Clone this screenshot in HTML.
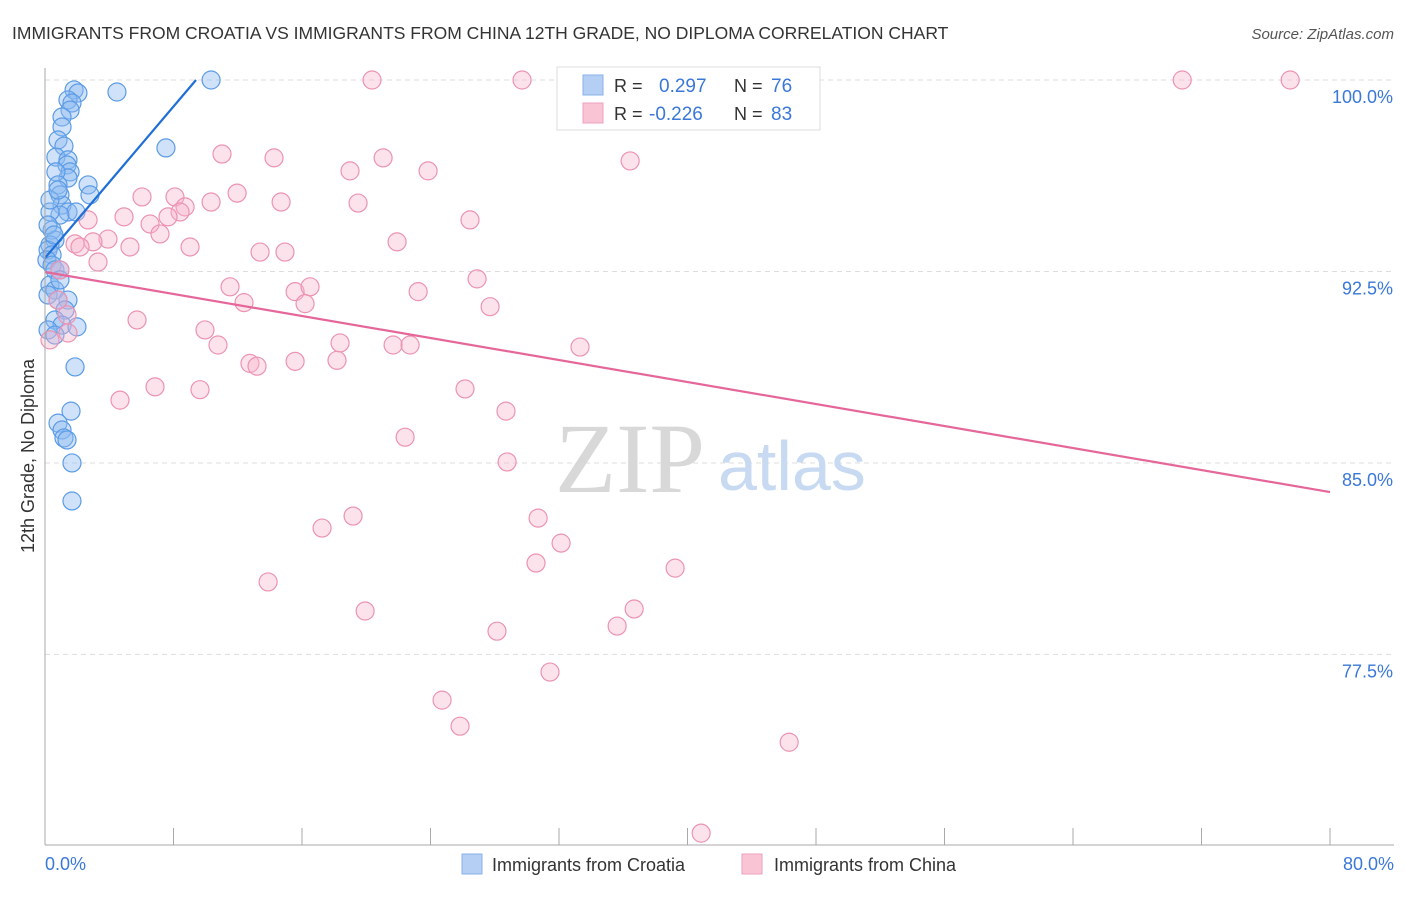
<!DOCTYPE html>
<html><head><meta charset="utf-8"><style>
body{margin:0;background:#fff;font-family:"Liberation Sans",sans-serif;}
</style></head><body>
<svg width="1406" height="892" xmlns="http://www.w3.org/2000/svg" font-family="Liberation Sans, sans-serif">
<text x="12" y="39" font-size="17.5" fill="#333">IMMIGRANTS FROM CROATIA VS IMMIGRANTS FROM CHINA 12TH GRADE, NO DIPLOMA CORRELATION CHART</text>
<text x="1394" y="39" font-size="15" fill="#555" font-style="italic" text-anchor="end">Source: ZipAtlas.com</text>
<text x="34" y="456" font-size="18" fill="#333" transform="rotate(-90 34 456)" text-anchor="middle">12th Grade, No Diploma</text>
<g id="grid"></g>
<text x="555" y="492" font-size="100" fill="#d8d8d8" font-family="Liberation Serif, serif">ZIP</text>
<text x="718" y="490" font-size="70" fill="#c8daf2">atlas</text>
<g id="pts"></g>
<g id="lines"></g>
<line x1="45" y1="68" x2="45" y2="845" stroke="#aaa"/>
<line x1="45" y1="845" x2="1394" y2="845" stroke="#aaa"/>
<g id="xt"></g>
<text x="45" y="870" font-size="18" fill="#3a78d8">0.0%</text>
<text x="1394" y="870" font-size="18" fill="#3a78d8" text-anchor="end">80.0%</text>
<g>
<rect x="557" y="67" width="263" height="63" fill="#fff" stroke="#ddd"/>
<rect x="583" y="75" width="20" height="20" fill="#b4cff3" stroke="#88b0e8"/>
<rect x="583" y="103" width="20" height="20" fill="#f9c4d4" stroke="#eea0bb"/>
<text x="614" y="92" font-size="18" fill="#333">R = </text><text x="659" y="92" font-size="19" fill="#3a78d8">0.297</text>
<text x="734" y="92" font-size="18" fill="#333">N = </text><text x="771" y="92" font-size="19" fill="#3a78d8">76</text>
<text x="614" y="120" font-size="18" fill="#333">R = </text><text x="649" y="120" font-size="19" fill="#3a78d8">-0.226</text>
<text x="734" y="120" font-size="18" fill="#333">N = </text><text x="771" y="120" font-size="19" fill="#3a78d8">83</text>
</g>
<g><rect x="462" y="854" width="20" height="20" fill="#b4cff3" stroke="#88b0e8"/><text x="492" y="871" font-size="18" fill="#333">Immigrants from Croatia</text></g>
<g><rect x="742" y="854" width="20" height="20" fill="#f9c4d4" stroke="#eea0bb"/><text x="774" y="871" font-size="18" fill="#333">Immigrants from China</text></g>
</svg>
<script>
const yTicks=[100,92.5,85,77.5];
const yTickLabels=["100.0%","92.5%","85.0%","77.5%"];
const xTicks=[0,8,16,24,32,40,48,56,64,72,80];
const croatiaX=[10.34,4.48,1.81,2.05,1.43,1.68,1.56,1.06,1.06,7.53,0.81,1.18,0.68,1.43,1.37,1.56,1.43,0.68,0.81,2.68,2.80,0.93,1.06,1.43,1.93,0.93,0.31,0.44,0.62,0.31,0.19,0.44,0.12,0.44,0.62,0.93,0.31,0.62,0.19,1.43,0.81,1.25,0.62,1.06,1.99,0.19,0.62,1.87,1.62,0.81,1.06,1.18,1.37,1.68,1.68,0.31,0.81,0.19,0.56,0.93];
const croatiaY=[100,99.53,99.61,99.49,99.22,99.10,98.82,98.55,98.16,97.34,97.65,97.41,96.98,96.87,96.67,96.40,96.16,96.40,95.89,95.89,95.50,95.50,95.10,94.83,94.83,94.71,94.83,94.12,93.73,93.54,93.34,93.15,92.95,92.75,92.56,92.56,91.97,91.77,91.58,91.38,91.38,90.99,90.60,90.40,90.33,90.21,90.01,88.76,87.03,86.56,86.29,85.98,85.90,85.0,83.51,95.30,95.69,94.32,93.93,92.17];
const chinaX=[20.36,29.70,32.88,70.80,77.52,11.02,14.26,21.05,18.99,23.85,36.43,11.96,6.04,8.09,10.34,14.70,19.49,8.72,8.41,7.66,4.92,2.68,6.54,26.46,7.16,3.92,2.99,1.87,2.18,5.29,9.03,13.39,14.94,21.92,3.30,26.90,11.52,15.57,16.50,23.23,12.39,16.19,27.71,1.37,5.73,9.96,18.37,10.77,21.67,22.73,33.31,0.31,15.57,12.76,13.20,18.18,6.85,9.65,26.15,4.67,28.70,22.42,28.77,17.25,19.18,30.70,32.13,30.57,39.23,13.89,19.93,36.68,35.62,28.14,31.44,24.72,25.84,46.33,40.85,1.43,0.81,0.93];
const chinaY=[100,100,100,100,100,97.10,96.95,96.95,96.44,96.44,96.83,95.57,95.42,95.42,95.22,95.22,95.18,95.03,94.83,94.64,94.64,94.52,94.36,94.52,93.97,93.77,93.66,93.58,93.46,93.46,93.46,93.26,93.26,93.66,92.87,92.21,91.90,91.71,91.90,91.71,91.28,91.24,91.12,90.80,90.60,90.21,89.70,89.62,89.62,89.62,89.54,89.82,88.98,88.90,88.79,89.02,87.98,87.87,87.90,87.46,87.03,86.01,85.04,82.45,82.92,82.84,81.86,81.08,80.88,80.34,79.20,79.28,78.61,78.41,76.81,75.71,74.69,74.06,70.5,90.09,91.38,92.56];
const croatiaTrendX=[0,9.4];
const croatiaTrendY=[93.03,100];
const chinaTrendX=[0,80];
const chinaTrendY=[92.48,83.86];
const NS="http://www.w3.org/2000/svg";
const sx=v=>45+v*(1285/80);
const sy=v=>80+(100-v)*25.53;
function mk(tag,attrs,parent){const e=document.createElementNS(NS,tag);for(const k in attrs)e.setAttribute(k,attrs[k]);document.getElementById(parent).appendChild(e);return e;}
yTicks.forEach((t,i)=>{
 const l=mk('line',{x1:45,x2:1394,y1:sy(t),y2:sy(t),stroke:'#ddd','stroke-dasharray':'5,4'},'grid');
 
 
 const tx=mk('text',{x:1393,y:sy(t)+23,'font-size':18,fill:'#3a78d8','text-anchor':'end'},'grid');
 tx.textContent=yTickLabels[i];
 
 
});
xTicks.forEach(t=>{
 const l=mk('line',{x1:sx(t),x2:sx(t),y1:828,y2:845,stroke:'#aaa'},'xt');
 
 
});
croatiaX.forEach((x,i)=>{
 const c=mk('circle',{cx:sx(x),cy:sy(croatiaY[i]),r:9,fill:'rgba(140,185,240,0.42)',stroke:'#5b9be6','stroke-width':1.2},'pts');
 
 
});
chinaX.forEach((x,i)=>{
 const c=mk('circle',{cx:sx(x),cy:sy(chinaY[i]),r:9,fill:'rgba(247,180,202,0.38)',stroke:'#ec93b2','stroke-width':1.2},'pts');
 
 
});
const l1=mk('line',{x1:sx(croatiaTrendX[0]),y1:sy(croatiaTrendY[0]),x2:sx(croatiaTrendX[1]),y2:sy(croatiaTrendY[1]),stroke:'#1f6fd6','stroke-width':2.2},'lines');


const l2=mk('line',{x1:sx(chinaTrendX[0]),y1:sy(chinaTrendY[0]),x2:sx(chinaTrendX[1]),y2:sy(chinaTrendY[1]),stroke:'#e5679a','stroke-width':2.2},'lines');


</script>
</body></html>
